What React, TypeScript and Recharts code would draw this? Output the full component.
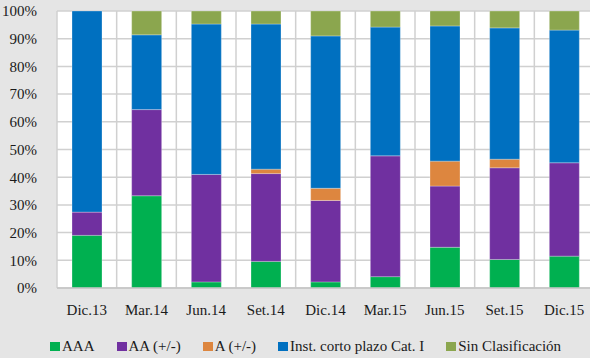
import * as React from "react";
import { BarChart, Bar, XAxis, YAxis, CartesianGrid, Legend } from "recharts";

// Periods shown on the x axis
const periods = ["Dic.13", "Mar.14", "Jun.14", "Set.14", "Dic.14", "Mar.15", "Jun.15", "Set.15", "Dic.15"];

// Share of each rating bucket, in percent
const aaa = [19.0, 33.3, 2.2, 9.6, 2.2, 4.1, 14.7, 10.3, 11.5];
const aa = [8.4, 31.1, 38.8, 31.7, 29.4, 43.6, 22.1, 33.1, 33.7];
const aSeries = [0, 0, 0, 1.6, 4.4, 0, 9.0, 3.1, 0];
const inst = [72.6, 27.0, 54.3, 52.4, 55.0, 46.5, 48.8, 47.4, 47.9];
const sinClas = [0, 8.6, 4.7, 4.7, 9.0, 5.8, 5.4, 6.1, 6.9];

const yTicks = [0, 0.1, 0.2, 0.3, 0.4, 0.5, 0.6, 0.7, 0.8, 0.9, 1];

const SERIES = [
  { key: "aaa", name: "AAA", color: "#00b050" },
  { key: "aa", name: "AA (+/-)", color: "#7030a0" },
  { key: "a", name: "A (+/-)", color: "#dd863f" },
  { key: "inst", name: "Inst. corto plazo Cat. I", color: "#0070c0" },
  { key: "sin", name: "Sin Clasificación", color: "#8ba64e" },
];

const data = periods.map((p, i) => ({
  period: p,
  aaa: aaa[i],
  aa: aa[i],
  a: aSeries[i],
  inst: inst[i],
  sin: sinClas[i],
}));

const FONT = "'Liberation Serif', 'Times New Roman', serif";

function LegendRow() {
  return (
    <div
      style={{
        display: "flex",
        alignItems: "center",
        height: 24,
        paddingLeft: 50,
        fontFamily: FONT,
        fontSize: 15,
        color: "#1a1a1a",
      }}
    >
      {SERIES.map((s) => (
        <div key={s.key} style={{ display: "flex", alignItems: "center", marginRight: 22 }}>
          <span style={{ width: 10, height: 9, background: s.color, marginRight: 2, display: "inline-block" }} />
          <span>{s.name}</span>
        </div>
      ))}
    </div>
  );
}

export default function App() {
  return (
    <div style={{ width: 590, height: 358, overflow: "hidden", background: "#e5e5e5", position: "relative" }}>
      <style>{"body{margin:0}"}</style>
      <BarChart
        width={594}
        height={358}
        data={data}
        stackOffset="expand"
        barSize={30}
        margin={{ top: 11, right: 0, bottom: 0, left: 0 }}
      >
        <CartesianGrid
          fill="#ffffff"
          stroke="#d0d0d0"
          strokeWidth={1.5}
          verticalCoordinatesGenerator={({ offset }: any) =>
            periods.map((_, i) => offset.left + (i * offset.width) / periods.length).concat(offset.left + offset.width)
          }
        />
        <XAxis
          dataKey="period"
          height={46}
          tickLine={false}
          axisLine={{ stroke: "#c4c4c4", strokeWidth: 1.5 }}
          tickMargin={10}
          tick={{ fill: "#1a1a1a", fontSize: 15, fontFamily: FONT }}
          interval={0}
        />
        <YAxis
          width={57}
          domain={[0, 1]}
          ticks={yTicks}
          tickFormatter={(v: number) => `${Math.round(v * 100)}%`}
          tickLine={false}
          axisLine={false}
          tickMargin={14}
          tick={{ fill: "#1a1a1a", fontSize: 15, fontFamily: FONT }}
        />
        <Legend verticalAlign="bottom" height={24} content={() => <LegendRow />} />
        {SERIES.map((s) => (
          <Bar
            key={s.key}
            dataKey={s.key}
            name={s.name}
            stackId="total"
            fill={s.color}
            stroke="rgba(255,255,255,0.35)"
            strokeWidth={0.8}
            isAnimationActive={false}
          />
        ))}
      </BarChart>
    </div>
  );
}
